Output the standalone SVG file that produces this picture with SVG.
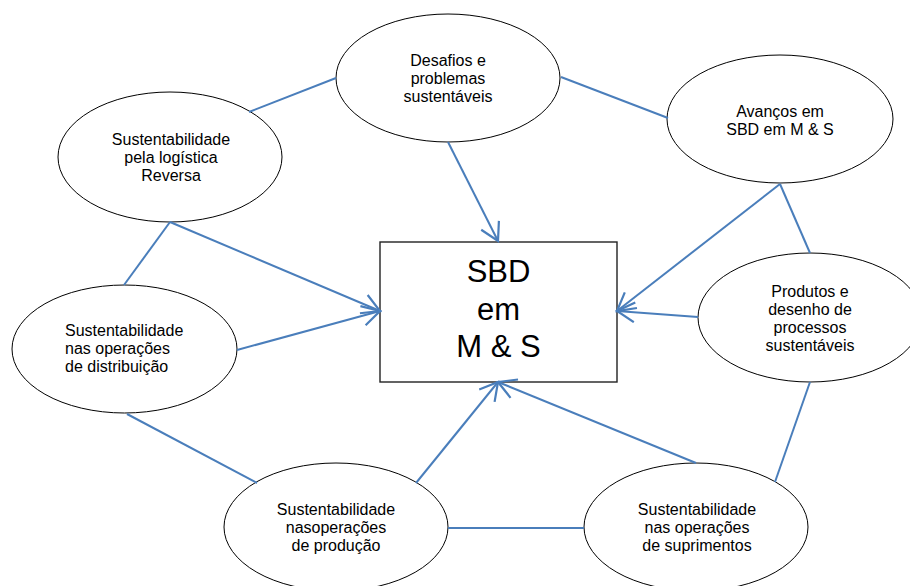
<svg xmlns="http://www.w3.org/2000/svg" width="910" height="586" viewBox="0 0 910 586">
  <style>
    .node ellipse { fill: #ffffff; stroke: #000000; stroke-width: 1; }
    .box { fill: #ffffff; stroke: #222222; stroke-width: 1.4; }
    .lbl { font-family: "Liberation Sans", Arial, sans-serif; font-size: 16px; fill: #000000; text-anchor: middle; }
    .lbl-left { text-anchor: start; }
    .title { font-family: "Liberation Sans", Arial, sans-serif; font-size: 31px; fill: #000000; text-anchor: middle; }
    .link { fill: none; stroke: #4a7ebb; stroke-width: 2; }
    .arrow { marker-end: url(#open-arrow); }
  </style>
  <defs>
    <marker id="open-arrow" markerUnits="userSpaceOnUse" markerWidth="22" markerHeight="22" viewBox="0 0 20 20" refX="18" refY="10" orient="auto">
      <path d="M2,1 L18,10 L2,19" fill="none" stroke="#4a7ebb" stroke-width="2"/>
    </marker>
  </defs>

  <rect width="910" height="586" fill="#ffffff"/>

  <!-- central block -->
  <g id="sbd">
    <rect class="box" x="380" y="242" width="237" height="140"/>
    <text class="title" x="498.5" y="282">SBD</text>
    <text class="title" x="498.5" y="320">em</text>
    <text class="title" x="498.5" y="357">M &amp; S</text>
  </g>

  <g id="desafios" class="node">
    <ellipse cx="448" cy="78" rx="112" ry="64"/>
    <text class="lbl" x="448" y="66">Desafios e</text>
    <text class="lbl" x="448" y="84">problemas</text>
    <text class="lbl" x="448" y="102">sustentáveis</text>
  </g>

  <g id="avancos" class="node">
    <ellipse cx="780" cy="119" rx="113" ry="64"/>
    <text class="lbl" x="780" y="117">Avanços em</text>
    <text class="lbl" x="780" y="135">SBD em M &amp; S</text>
  </g>

  <g id="logistica" class="node">
    <ellipse cx="170" cy="157" rx="112" ry="65"/>
    <text class="lbl" x="171" y="145">Sustentabilidade</text>
    <text class="lbl" x="171" y="163">pela logística</text>
    <text class="lbl" x="171" y="181">Reversa</text>
  </g>

  <g id="produtos" class="node">
    <ellipse cx="810" cy="317.5" rx="112" ry="64.5"/>
    <text class="lbl" x="810" y="297">Produtos e</text>
    <text class="lbl" x="810" y="315">desenho de</text>
    <text class="lbl" x="810" y="333">processos</text>
    <text class="lbl" x="810" y="351">sustentáveis</text>
  </g>

  <g id="distribuicao" class="node">
    <ellipse cx="124.5" cy="349" rx="112.5" ry="64"/>
    <text class="lbl lbl-left" x="65" y="336">Sustentabilidade</text>
    <text class="lbl lbl-left" x="65" y="354">nas operações</text>
    <text class="lbl lbl-left" x="65" y="372">de distribuição</text>
  </g>

  <g id="producao" class="node">
    <ellipse cx="336" cy="527" rx="112" ry="64"/>
    <text class="lbl" x="336" y="515">Sustentabilidade</text>
    <text class="lbl" x="336" y="533">nasoperações</text>
    <text class="lbl" x="336" y="551">de produção</text>
  </g>

  <g id="suprimentos" class="node">
    <ellipse cx="696" cy="527" rx="112" ry="64"/>
    <text class="lbl" x="697" y="515">Sustentabilidade</text>
    <text class="lbl" x="697" y="533">nas operações</text>
    <text class="lbl" x="697" y="551">de suprimentos</text>
  </g>

  <!-- connectors -->
  <g id="connectors">
    <line class="link" x1="249" y1="112" x2="336" y2="78"/>
    <line class="link" x1="561" y1="77" x2="668" y2="118"/>
    <line class="link arrow" x1="448" y1="142" x2="498" y2="241"/>
    <line class="link arrow" x1="780" y1="184" x2="617" y2="311"/>
    <line class="link" x1="780" y1="184" x2="810" y2="253"/>
    <line class="link arrow" x1="698" y1="317" x2="617" y2="311"/>
    <line class="link" x1="810" y1="382" x2="775" y2="482"/>
    <line class="link arrow" x1="696" y1="463" x2="498" y2="382"/>
    <line class="link" x1="448" y1="528" x2="584" y2="528"/>
    <line class="link arrow" x1="416" y1="483" x2="498" y2="382"/>
    <line class="link" x1="127" y1="414" x2="257" y2="483"/>
    <line class="link arrow" x1="237" y1="350" x2="380" y2="311"/>
    <line class="link arrow" x1="170" y1="222" x2="380" y2="311"/>
    <line class="link" x1="170" y1="222" x2="124" y2="285"/>
  </g>
</svg>
